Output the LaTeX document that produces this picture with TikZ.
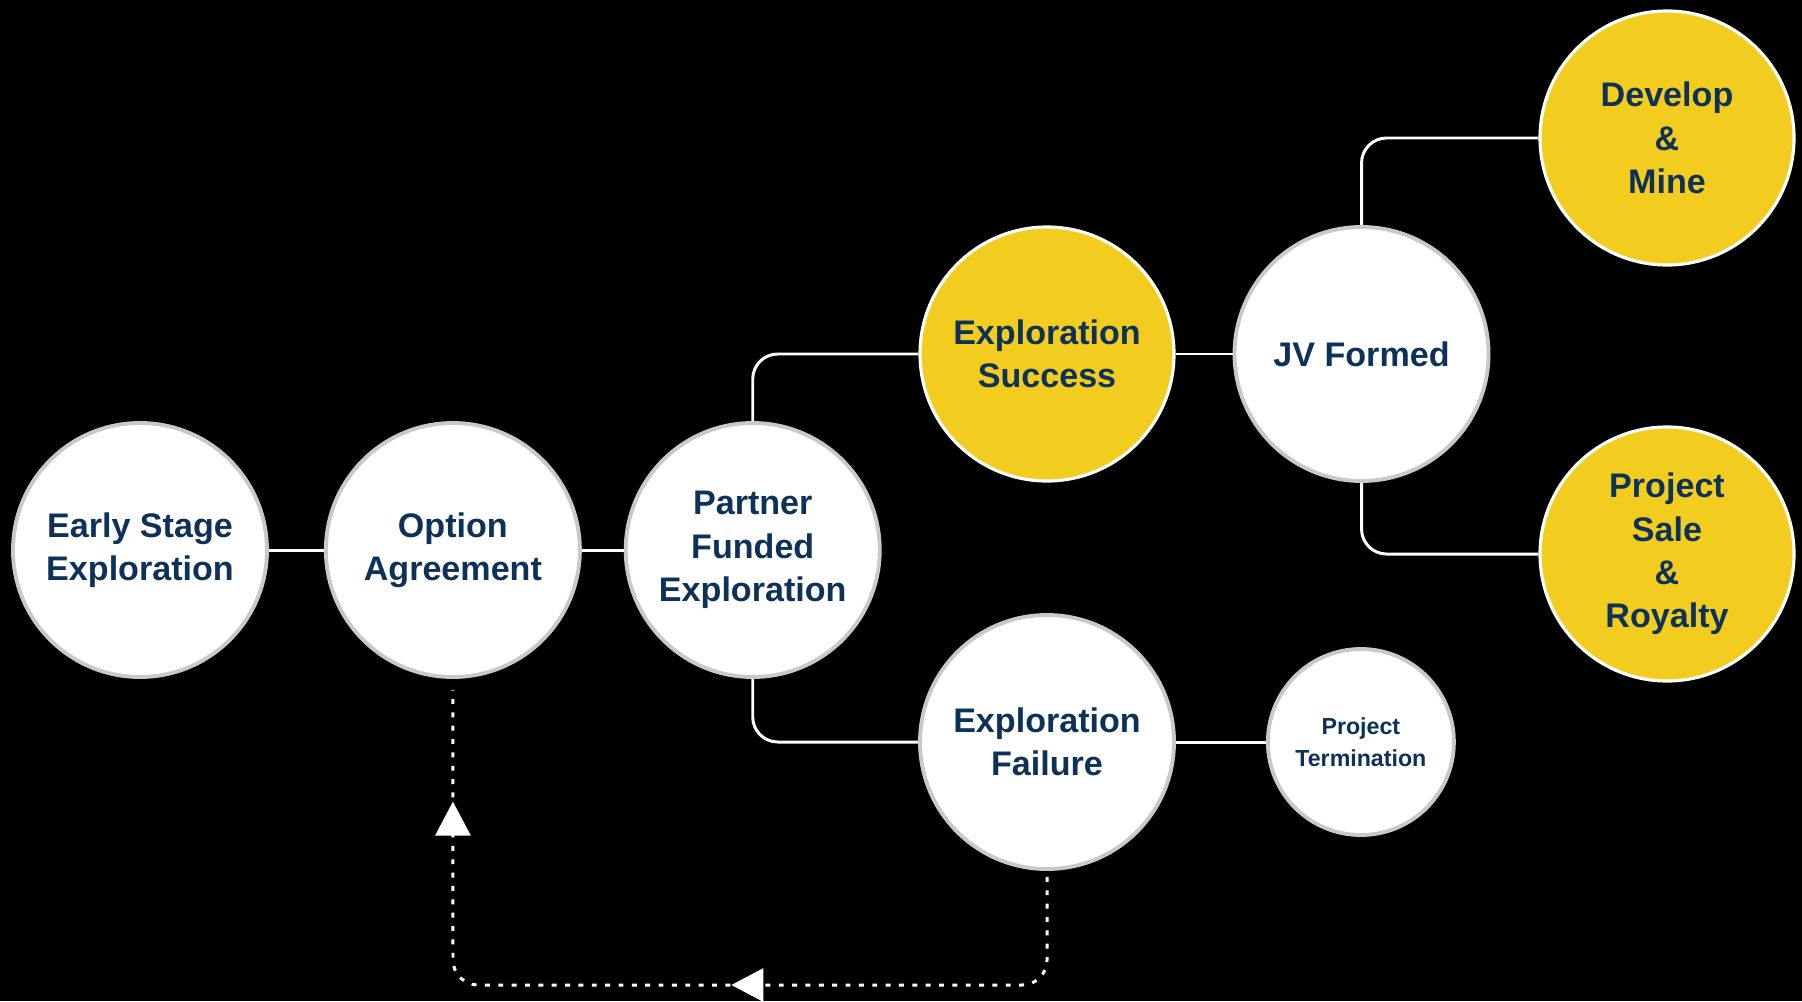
\documentclass[tikz,border=0pt]{standalone}
\usepackage{fontspec}
\setmainfont{Liberation Sans}
\usetikzlibrary{arrows.meta,positioning,calc,decorations.markings}
\definecolor{navy}{HTML}{0D3158}
\definecolor{gold}{HTML}{F2CD1F}
\definecolor{rim}{HTML}{C9C9C9}

\begin{document}
\begin{tikzpicture}[stage/.style={circle, draw=rim, line width=1.1pt, fill=white, minimum size=2.54cm, inner sep=0pt, align=center, text=navy, font=\bfseries\fontsize{9.7}{12.3}\selectfont},
    goal/.style={stage, draw=white, fill=gold, line width=0.9pt},
    endstage/.style={stage, minimum size=1.86cm, font=\bfseries\fontsize{6.6}{9.1}\selectfont},
    link/.style={draw=white, line width=0.85pt, rounded corners=0.25cm},
    loopback/.style={draw=white, line width=0.85pt, dash pattern=on 1.4pt off 2.4pt, rounded corners=0.25cm}]
    % Background and page size
    \fill [black] (0,0) rectangle (18.02,-10.01);

    % Main row
    \node [stage] (early) at (1.40,-5.50) {Early Stage\\Exploration};
    \node [stage, right=0.55cm of early] (option) {Option\\Agreement};
    \node [stage, right=0.42cm of option] (partner) {Partner\\Funded\\Exploration};

    % Outcomes of exploration
    \node [goal] (success) at (10.47,-3.54) {Exploration\\Success};
    \node [stage] (failure) at (10.47,-7.42) {Exploration\\Failure};
    \node [stage, right=0.57cm of success] (jv) {JV Formed};
    \node [endstage, right=0.9cm of failure] (termination) {Project\\Termination};

    % Final stages
    \node [goal] (develop) at (16.67,-1.38) {Develop\\\&\\Mine};
    \node [goal] (sale) at (16.67,-5.54) {Project\\Sale\\\&\\Royalty};

    % Connectors
    \draw [link] (early) -- (option);
    \draw [link] (option) -- (partner);
    \draw [link] (partner.north) |- (success.west);
    \draw [link] (partner.south) |- (failure.west);
    \draw [link] (success) -- (jv);
    \draw [link] (jv.north) |- (develop.west);
    \draw [link] (jv.south) |- (sale.west);
    \draw [link] (failure.east) -- (termination.west);

    % Back to a new option after failure
    \coordinate (bend) at (4.53,-9.85);
    \draw [loopback, postaction={decorate}, decoration={markings,
        mark=at position 4.13cm with {\arrow{Triangle[length=0.32cm, width=0.33cm]}},
        mark=at position 8.64cm with {\arrow{Triangle[length=0.34cm, width=0.35cm]}}}]
        ([yshift=-0.06cm]failure.south) |- (bend) -- ([yshift=-0.11cm]option.south);
\end{tikzpicture}
\end{document}
